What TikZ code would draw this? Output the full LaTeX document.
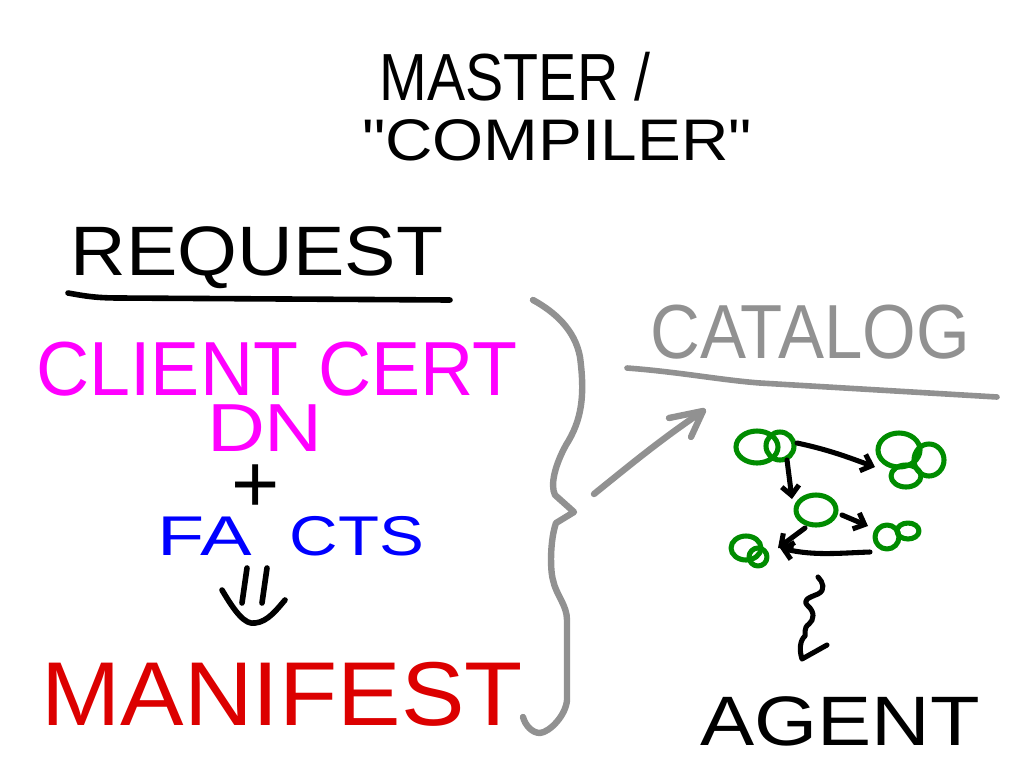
\documentclass[tikz,border=0pt]{standalone}
\usepackage{fontspec}
\setmainfont{Liberation Sans}
\usetikzlibrary{arrows.meta}
\newcommand{\myfs}[1]{\fontsize{#1}{#1}\selectfont}
\definecolor{cmag}{RGB}{255,0,255}
\definecolor{cblue}{RGB}{0,0,255}
\definecolor{cred}{RGB}{220,0,0}
\definecolor{cgreen}{RGB}{0,140,0}
\definecolor{cgray}{RGB}{145,145,145}
\tikzset{
  lbl/.style={inner sep=0pt, anchor=base},
  ink/.style={line width=4.2pt, line cap=round, line join=round},
  thinink/.style={line width=3.8pt, line cap=round, line join=round},
  blob/.style={thinink, draw=cgreen},
  barb/.style={thinink, -{Straight Barb[length=7pt,width=13pt,line width=3.8pt]}}
}
\begin{document}
\begin{tikzpicture}[x=0.75pt,y=-0.75pt]
\useasboundingbox (0,0) rectangle (1024,768);
\fill[white] (0,0) rectangle (1024,768);
% titles
\node[lbl, xscale=0.86] (master) at (515,100) {\myfs{50}MASTER /};
\node[lbl, xscale=1.12] (compiler) at (557,160) {\myfs{44}\textquotedbl COMPILER\textquotedbl};
% request
\node[lbl, xscale=1.1] (request) at (257,275) {\myfs{52.5}REQUEST};
\draw[ink] (68,293) .. controls (85,296) and (95,298) .. (120,298) -- (450,300);
\node[lbl, xscale=0.96, text=cmag] (client) at (277,395) {\myfs{57.5}CLIENT CERT};
\node[lbl, xscale=1.18, text=cmag] (dn) at (265,451) {\myfs{51}DN};
\node[inner sep=0pt] (plus) at (256,489) {\myfs{62}+};
\node[lbl, xscale=1.38, text=cblue] (fa) at (205,555) {\myfs{42}FA};
\node[lbl, xscale=1.2, text=cblue] (cts) at (357,555) {\myfs{42}CTS};
% implies sign
\coordinate (imp1a) at (247,568); \coordinate (imp1b) at (242,603);
\coordinate (imp2a) at (267,568); \coordinate (imp2b) at (262,603);
\draw[ink] (imp1a) -- (imp1b);
\draw[ink] (imp2a) -- (imp2b);
\coordinate (arcL) at (222,590); \coordinate (arcR) at (285,600);
\draw[ink] (arcL) .. controls (235,612) and (245,625) .. (255,623) .. controls (268,622) and (278,608) .. (arcR);
\node[lbl, xscale=1.05, text=cred] (manifest) at (282,725) {\myfs{68}MANIFEST};
% brace
\coordinate (bTop) at (533,300);
\coordinate (bTip) at (574,512);
\coordinate (bBot) at (523,717);
\draw[ink, draw=cgray, line width=4.8pt] (bTop) .. controls (555,312) and (575,330) .. (580,357)
  .. controls (585,395) and (582,420) .. (566,445)
  .. controls (555,465) and (550,485) .. (555,495) -- (bTip) -- (556,523)
  .. controls (550,540) and (550,570) .. (553,580) .. controls (556,595) and (567,605) .. (567,620)
  -- (567,700) .. controls (566,715) and (550,732) .. (540,733) .. controls (532,733) and (525,725) .. (bBot);
% gray arrow
\coordinate (gaS) at (594,494);
\coordinate (gaE) at (703,411);
\draw[ink, draw=cgray, line width=4.8pt] (gaS) .. controls (630,465) and (660,440) .. (gaE);
\draw[ink, draw=cgray, line width=4.8pt] (669,418) -- (gaE) -- (691,437);
% catalog
\node[lbl, xscale=0.9, text=cgray] (catalog) at (810,358) {\myfs{57.5}CATALOG};
\draw[ink, draw=cgray] (627,368) .. controls (680,372) and (720,380) .. (760,383) -- (997,397);
% blobs
\draw[blob] (757,447) ellipse [x radius=21, y radius=16];
\draw[blob] (780,446) ellipse [x radius=14, y radius=14];
\draw[blob] (899,450) ellipse [x radius=21, y radius=17];
\draw[blob] (929,460) ellipse [x radius=15, y radius=16];
\draw[blob] (906,476) ellipse [x radius=15, y radius=11];
\draw[blob] (816,510) ellipse [x radius=20, y radius=15];
\draw[blob] (887,537) ellipse [x radius=12, y radius=12];
\draw[blob] (908,531) ellipse [x radius=11, y radius=8];
\draw[blob] (746,548) ellipse [x radius=15, y radius=12];
\draw[blob] (758,557) ellipse [x radius=9, y radius=9];
\node[inner sep=0pt, minimum size=30pt] (n1) at (765,447) {};
\node[inner sep=0pt, minimum size=30pt] (n2) at (910,458) {};
\node[inner sep=0pt, minimum size=24pt] (n3) at (816,510) {};
\node[inner sep=0pt, minimum size=18pt] (n4) at (896,535) {};
\node[inner sep=0pt, minimum size=18pt] (n5) at (750,551) {};
% black arrows
\coordinate (a1s) at (797,443); \coordinate (a1e) at (875,467);
\coordinate (a2s) at (787,460); \coordinate (a2e) at (792,499);
\coordinate (a3s) at (842,515); \coordinate (a3e) at (868,526);
\coordinate (a4s) at (805,528); \coordinate (a4e) at (778,548);
\coordinate (a5s) at (870,552); \coordinate (a5e) at (780,548);
\draw[barb] (a1s) .. controls (830,450) and (850,458) .. (a1e);
\draw[barb] (a2s) -- (a2e);
\draw[barb] (a3s) -- (a3e);
\draw[barb] (a4s) -- (a4e);
\draw[barb] (a5s) .. controls (840,553) and (815,556) .. (a5e);
% squiggle
\coordinate (sqS) at (818,577);
\coordinate (sqE) at (802,659);
\draw[thinink] (sqS) .. controls (823,582) and (826,590) .. (818,594) .. controls (808,598) and (802,600) .. (808,606)
  .. controls (815,612) and (814,620) .. (809,624) .. controls (803,628) and (806,634) .. (805,636)
  .. controls (800,640) and (799,650) .. (sqE) -- (827,645);
\node[lbl, xscale=1.16] (agent) at (840,745) {\myfs{52.5}AGENT};
\end{tikzpicture}
\end{document}
